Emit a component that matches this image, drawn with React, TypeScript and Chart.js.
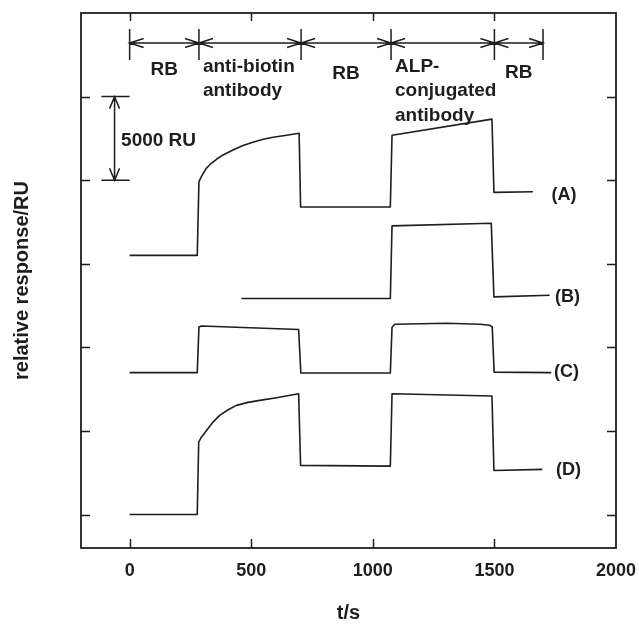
import React, { useEffect, useRef } from 'react';
import { Chart, registerables } from 'chart.js';

Chart.register(...registerables);

// ---- data (time in s, response in RU; traces are vertically offset as in the figure) ----
const timeA = [0, 278, 285, 295, 315, 336, 357, 384, 425, 466, 507, 549, 590, 645, 697, 703, 1072, 1079, 1490, 1498, 1658];
const respA = [15500, 15500, 19910, 20210, 20710, 21010, 21250, 21510, 21810, 22070, 22270, 22450, 22570, 22690, 22810, 18400, 18400, 22690, 23650, 19270, 19310];

const timeB = [460, 1072, 1079, 1487, 1498, 1727];
const respB = [12920, 12920, 17270, 17420, 13020, 13120];

const timeC = [0, 278, 285, 295, 695, 704, 1072, 1079, 1090, 1303, 1440, 1481, 1491, 1499, 1734];
const respC = [8490, 8490, 11220, 11280, 11070, 8470, 8470, 11200, 11380, 11440, 11380, 11320, 11220, 8520, 8490];

const timeD = [0, 278, 284, 295, 316, 343, 370, 405, 439, 487, 535, 604, 695, 703, 1072, 1079, 1490, 1498, 1697];
const respD = [0, 0, 4330, 4630, 5030, 5530, 5930, 6270, 6530, 6710, 6830, 6990, 7230, 2940, 2900, 7230, 7090, 2640, 2700];

const seriesNames = ['(A)', '(B)', '(C)', '(D)'];
const seriesLabelX = [1735, 1749, 1745, 1753];
const seriesLabelY = [19110, 13020, 8525, 2636];

const xTickValues = [0, 500, 1000, 1500, 2000];
const xTickLabels = ['0', '500', '1000', '1500', '2000'];
const yTickValues = [0, 5000, 10000, 15000, 20000, 25000];

const phaseBoundaries = [0, 285, 705, 1075, 1500, 1700];
const phaseLabels = [['RB'], ['anti-biotin', 'antibody'], ['RB'], ['ALP-', 'conjugated', 'antibody'], ['RB']];

const scaleBarX = -62;
const scaleBarCapFrom = -116;
const scaleBarCapTo = 0;
const scaleBarLow = 20000;
const scaleBarHigh = 25000;
const scaleBarLabel = '5000 RU';

const xTitle = 't/s';
const yTitle = 'relative response/RU';

const INK = '#1e1e1e';
const FONT = '"Liberation Sans", Arial, Helvetica, sans-serif';

function pts(t: number[], v: number[]) {
  return t.map((x, i) => ({ x, y: v[i] }));
}

function arrowHead(ctx: CanvasRenderingContext2D, tx: number, ty: number, dx: number, dy: number, len: number, half: number) {
  const nx = -dy;
  const ny = dx;
  ctx.moveTo(tx + dx * len + nx * half, ty + dy * len + ny * half);
  ctx.lineTo(tx, ty);
  ctx.lineTo(tx + dx * len - nx * half, ty + dy * len - ny * half);
}

const overlay = {
  id: 'overlay',
  afterDatasetsDraw(chart: any) {
    const { ctx, chartArea: a } = chart;
    const x = chart.scales.x;
    const y = chart.scales.y;
    ctx.save();
    ctx.strokeStyle = INK;
    ctx.fillStyle = INK;
    ctx.lineCap = 'butt';

    // frame
    ctx.lineWidth = 1.8;
    ctx.strokeRect(a.left, a.top, a.right - a.left, a.bottom - a.top);

    // inward ticks on all four sides
    ctx.lineWidth = 1.5;
    ctx.beginPath();
    xTickValues.forEach((v) => {
      if (v <= x.min || v >= x.max) return;
      const px = Math.round(x.getPixelForValue(v)) + 0.5;
      ctx.moveTo(px, a.bottom);
      ctx.lineTo(px, a.bottom - 9);
      ctx.moveTo(px, a.top);
      ctx.lineTo(px, a.top + 8);
    });
    yTickValues.forEach((v) => {
      if (v <= y.min || v >= y.max) return;
      const py = Math.round(y.getPixelForValue(v)) + 0.5;
      ctx.moveTo(a.left, py);
      ctx.lineTo(a.left + 9, py);
      ctx.moveTo(a.right, py);
      ctx.lineTo(a.right - 9, py);
    });
    ctx.stroke();

    // x tick labels
    ctx.font = `bold 18px ${FONT}`;
    ctx.textAlign = 'center';
    ctx.textBaseline = 'alphabetic';
    xTickValues.forEach((v, i) => {
      ctx.fillText(xTickLabels[i], x.getPixelForValue(v), a.bottom + 28);
    });

    // axis titles
    ctx.font = `bold 20px ${FONT}`;
    ctx.textBaseline = 'middle';
    ctx.fillText(xTitle, (a.left + a.right) / 2, 613);
    ctx.save();
    ctx.translate(22, (a.top + a.bottom) / 2);
    ctx.rotate(-Math.PI / 2);
    ctx.fillText(yTitle, 0, 0);
    ctx.restore();

    // phase markers and double arrows
    ctx.lineWidth = 1.5;
    const arrowY = a.top + 30;
    ctx.beginPath();
    phaseBoundaries.forEach((b) => {
      const px = x.getPixelForValue(b);
      ctx.moveTo(px, a.top + 16);
      ctx.lineTo(px, a.top + 47);
    });
    for (let i = 0; i < phaseBoundaries.length - 1; i++) {
      const x0 = x.getPixelForValue(phaseBoundaries[i]);
      const x1 = x.getPixelForValue(phaseBoundaries[i + 1]);
      ctx.moveTo(x0, arrowY);
      ctx.lineTo(x1, arrowY);
      arrowHead(ctx, x0, arrowY, 1, 0, 14, 4.5);
      arrowHead(ctx, x1, arrowY, -1, 0, 14, 4.5);
    }
    ctx.stroke();

    // phase labels
    ctx.font = `bold 19px ${FONT}`;
    ctx.textBaseline = 'alphabetic';
    const singleBase = [74.5, 79, 78];
    let single = 0;
    phaseLabels.forEach((lines, i) => {
      const x0 = x.getPixelForValue(phaseBoundaries[i]);
      const x1 = x.getPixelForValue(phaseBoundaries[i + 1]);
      if (lines.length === 1) {
        ctx.textAlign = 'center';
        ctx.fillText(lines[0], (x0 + x1) / 2, singleBase[single++]);
      } else {
        ctx.textAlign = 'left';
        lines.forEach((ln, j) => ctx.fillText(ln, x0 + 4, 71.5 + j * 24.5));
      }
    });

    // 5000 RU scale bar
    const sx = x.getPixelForValue(scaleBarX);
    const yHi = y.getPixelForValue(scaleBarHigh);
    const yLo = y.getPixelForValue(scaleBarLow);
    const c0 = x.getPixelForValue(scaleBarCapFrom);
    const c1 = x.getPixelForValue(scaleBarCapTo);
    ctx.beginPath();
    ctx.moveTo(c0, yHi);
    ctx.lineTo(c1, yHi);
    ctx.moveTo(c0, yLo);
    ctx.lineTo(c1, yLo);
    ctx.moveTo(sx, yHi);
    ctx.lineTo(sx, yLo);
    arrowHead(ctx, sx, yHi, 0, 1, 12, 5);
    arrowHead(ctx, sx, yLo, 0, -1, 12, 5);
    ctx.stroke();
    ctx.textAlign = 'left';
    ctx.fillText(scaleBarLabel, sx + 6.5, (yHi + yLo) / 2 + 7.5);

    // series labels
    ctx.font = `bold 18px ${FONT}`;
    ctx.textBaseline = 'middle';
    seriesNames.forEach((n, i) => {
      ctx.fillText(n, x.getPixelForValue(seriesLabelX[i]), y.getPixelForValue(seriesLabelY[i]));
    });

    ctx.restore();
  },
};

export default function App() {
  const ref = useRef<HTMLCanvasElement | null>(null);

  useEffect(() => {
    if (!ref.current) return;
    const common = {
      borderColor: INK,
      borderWidth: 1.6,
      pointRadius: 0,
      fill: false,
      tension: 0,
      borderJoinStyle: 'round' as const,
    };
    const chart = new Chart(ref.current, {
      type: 'line',
      data: {
        datasets: [
          { ...common, label: seriesNames[0], data: pts(timeA, respA) },
          { ...common, label: seriesNames[1], data: pts(timeB, respB) },
          { ...common, label: seriesNames[2], data: pts(timeC, respC) },
          { ...common, label: seriesNames[3], data: pts(timeD, respD) },
        ],
      },
      options: {
        animation: false,
        responsive: false,
        maintainAspectRatio: false,
        layout: { padding: { left: 81, right: 23, top: 13, bottom: 76 } },
        plugins: { legend: { display: false }, tooltip: { enabled: false } },
        scales: {
          x: { type: 'linear', min: -200, max: 2000, display: false },
          y: { type: 'linear', min: -2000, max: 30000, display: false },
        },
      },
      plugins: [overlay],
    });
    return () => chart.destroy();
  }, []);

  return (
    <div style={{ position: 'absolute', left: 0, top: 0, width: 639, height: 624, background: '#fff' }}>
      <canvas ref={ref} width={639} height={624} style={{ display: 'block' }} />
    </div>
  );
}
